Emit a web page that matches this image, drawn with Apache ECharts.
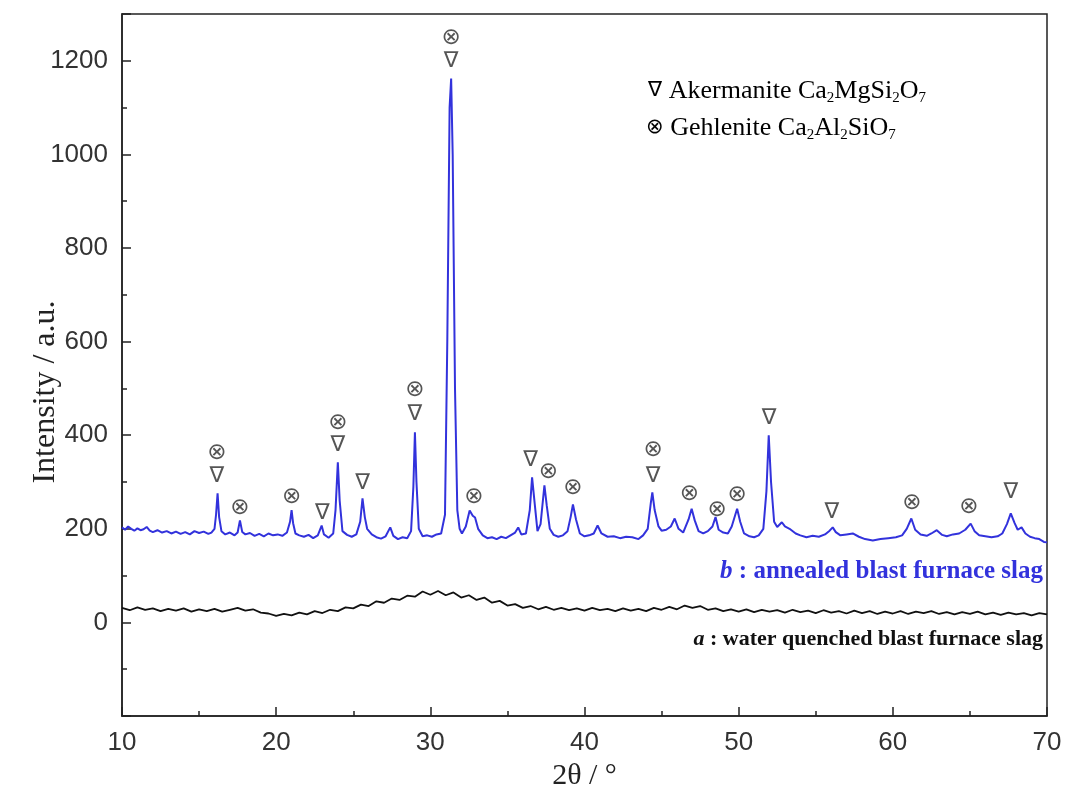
<!DOCTYPE html>
<html>
<head>
<meta charset="utf-8">
<script src="https://cdn.jsdelivr.net/npm/echarts@6/dist/echarts.min.js"></script>
<style>
  html, body { margin: 0; padding: 0; background: #fff; }
  #chart { width: 1068px; height: 791px; }
</style>
</head>
<body>
<div id="chart"></div>
<script>
// XRD patterns, 2θ (deg) vs intensity (a.u.)
const annealed = [
  [10.0, 203], [10.2, 198], [10.4, 205], [10.6, 200], [10.8, 196], [11.0, 201], [11.2, 197], [11.4, 199],
  [11.6, 204], [11.8, 196], [12.0, 193], [12.3, 197], [12.6, 192], [12.9, 195], [13.2, 190], [13.5, 194],
  [13.8, 189], [14.1, 193], [14.4, 188], [14.7, 195], [15.0, 191], [15.3, 194], [15.6, 189], [15.8, 192],
  [16.0, 200], [16.1, 230], [16.2, 276], [16.3, 225], [16.45, 195], [16.7, 188], [17.0, 192], [17.3, 186],
  [17.5, 192], [17.65, 218], [17.8, 193], [18.0, 188], [18.3, 191], [18.6, 185], [18.9, 189], [19.2, 184],
  [19.5, 190], [19.8, 186], [20.1, 188], [20.4, 185], [20.7, 192], [20.9, 215], [21.0, 240], [21.1, 212],
  [21.25, 190], [21.5, 186], [21.8, 183], [22.1, 187], [22.4, 180], [22.7, 186], [22.95, 207], [23.1, 188],
  [23.4, 181], [23.7, 190], [23.85, 240], [24.0, 342], [24.12, 260], [24.3, 195], [24.6, 187], [24.9, 183],
  [25.2, 188], [25.45, 215], [25.6, 265], [25.75, 225], [25.9, 200], [26.2, 188], [26.5, 182], [26.8, 179],
  [27.1, 184], [27.4, 203], [27.6, 185], [27.9, 178], [28.2, 182], [28.5, 180], [28.75, 195], [28.9, 290],
  [29.0, 406], [29.1, 300], [29.25, 200], [29.5, 184], [29.8, 186], [30.1, 183], [30.4, 188], [30.7, 190],
  [30.95, 230], [31.1, 600], [31.25, 1100], [31.35, 1162], [31.45, 1000], [31.6, 500], [31.75, 240],
  [31.9, 200], [32.05, 190], [32.3, 205], [32.55, 239], [32.75, 228], [32.9, 224], [33.1, 200], [33.4, 186],
  [33.7, 180], [34.0, 182], [34.3, 178], [34.6, 183], [34.9, 180], [35.2, 186], [35.5, 192], [35.7, 203],
  [35.9, 188], [36.2, 190], [36.45, 240], [36.6, 310], [36.75, 260], [36.95, 195], [37.15, 210], [37.4, 293],
  [37.55, 250], [37.75, 200], [38.0, 187], [38.3, 183], [38.6, 186], [38.9, 195], [39.1, 225], [39.25, 252],
  [39.45, 220], [39.7, 190], [40.0, 184], [40.3, 186], [40.6, 190], [40.85, 207], [41.1, 190], [41.5, 183],
  [41.9, 184], [42.3, 180], [42.7, 183], [43.1, 182], [43.5, 178], [43.8, 186], [44.1, 200], [44.3, 255],
  [44.4, 278], [44.55, 240], [44.8, 205], [45.0, 196], [45.3, 198], [45.6, 205], [45.85, 222], [46.1, 200],
  [46.4, 192], [46.75, 220], [46.95, 243], [47.15, 218], [47.4, 195], [47.7, 190], [48.0, 195], [48.3, 205],
  [48.5, 225], [48.7, 198], [49.0, 192], [49.3, 190], [49.55, 205], [49.9, 243], [50.1, 215], [50.35, 190],
  [50.7, 184], [51.0, 182], [51.3, 186], [51.6, 200], [51.8, 280], [51.95, 400], [52.1, 300], [52.3, 215],
  [52.5, 204], [52.8, 214], [53.0, 205], [53.3, 200], [53.7, 190], [54.0, 186], [54.4, 182], [54.8, 185],
  [55.2, 183], [55.6, 188], [55.9, 196], [56.1, 203], [56.3, 193], [56.6, 186], [57.0, 188], [57.4, 190],
  [57.8, 183], [58.2, 178], [58.7, 175], [59.2, 178], [59.7, 180], [60.2, 182], [60.6, 186], [60.9, 200],
  [61.2, 222], [61.45, 198], [61.8, 188], [62.2, 185], [62.5, 190], [62.85, 197], [63.2, 187], [63.5, 184],
  [63.9, 188], [64.3, 190], [64.7, 198], [65.05, 211], [65.3, 195], [65.6, 186], [66.0, 184], [66.4, 182],
  [66.8, 184], [67.1, 190], [67.4, 210], [67.65, 233], [67.9, 212], [68.1, 198], [68.35, 203], [68.6, 190],
  [68.9, 183], [69.2, 180], [69.5, 178], [69.8, 172], [70.0, 171]
];

const quenched = [
  [10, 31], [10.5, 26], [11, 32], [11.5, 27], [12, 30], [12.5, 24], [13, 29], [13.5, 25], [14, 30], [14.5, 23],
  [15, 28], [15.5, 24], [16, 29], [16.5, 23], [17, 27], [17.5, 31], [18, 25], [18.5, 28], [19, 21], [19.5, 19],
  [20, 14], [20.5, 18], [21, 15], [21.5, 21], [22, 17], [22.5, 24], [23, 20], [23.5, 27], [24, 24], [24.5, 32],
  [25, 30], [25.5, 38], [26, 35], [26.5, 45], [27, 42], [27.5, 51], [28, 48], [28.5, 57], [29, 55], [29.5, 66],
  [30, 59], [30.5, 67], [31, 58], [31.5, 64], [32, 53], [32.5, 58], [33, 48], [33.5, 53], [34, 42], [34.5, 46],
  [35, 36], [35.5, 39], [36, 31], [36.5, 35], [37, 28], [37.5, 33], [38, 27], [38.5, 31], [39, 26], [39.5, 30],
  [40, 25], [40.5, 31], [41, 26], [41.5, 29], [42, 24], [42.5, 30], [43, 25], [43.5, 29], [44, 24], [44.5, 31],
  [45, 27], [45.5, 33], [46, 28], [46.5, 36], [47, 31], [47.5, 35], [48, 27], [48.5, 30], [49, 24], [49.5, 28],
  [50, 23], [50.5, 28], [51, 22], [51.5, 27], [52, 23], [52.5, 26], [53, 21], [53.5, 27], [54, 22], [54.5, 25],
  [55, 20], [55.5, 26], [56, 21], [56.5, 24], [57, 19], [57.5, 25], [58, 20], [58.5, 24], [59, 18], [59.5, 23],
  [60, 19], [60.5, 24], [61, 18], [61.5, 23], [62, 20], [62.5, 24], [63, 18], [63.5, 22], [64, 17], [64.5, 22],
  [65, 18], [65.5, 23], [66, 17], [66.5, 21], [67, 16], [67.5, 21], [68, 17], [68.5, 20], [69, 15], [69.5, 20],
  [70, 17]
];

// phase markers placed above the peaks
const akermaniteMarks = [
  [16.15, 313], [23.0, 234], [24.0, 379], [25.6, 298], [29.0, 445], [31.35, 1200], [36.5, 347],
  [44.45, 313], [51.97, 437], [56.05, 236], [67.66, 279]
];
const gehleniteMarks = [
  [16.15, 362], [17.65, 244], [21.0, 268], [24.0, 426], [29.0, 497], [31.35, 1249], [32.83, 268],
  [37.65, 321], [39.25, 287], [44.45, 368], [46.8, 274], [48.6, 240], [49.9, 272], [61.24, 255], [64.94, 247]
];

const xTicks = [10, 20, 30, 40, 50, 60, 70];
const yTicks = [0, 200, 400, 600, 800, 1000, 1200];

const BLUE = "#3232dc";
const INK = "#222";
const SERIF = "'Liberation Serif', 'Times New Roman', serif";
const SANS = "'Liberation Sans', Arial, sans-serif";
const GLYPH = "'DejaVu Sans', sans-serif";

const chart = echarts.init(document.getElementById("chart"), null, { renderer: "canvas" });

function markSeries(name, glyph, data, size) {
  return {
    name,
    type: "scatter",
    data,
    symbol: "circle",
    symbolSize: 1,
    itemStyle: { color: "transparent" },
    label: {
      show: true,
      position: "inside",
      formatter: glyph,
      fontFamily: GLYPH,
      fontSize: size,
      color: "#2a2a2a",
    },
    silent: true,
    z: 5,
  };
}

const sub = { fontFamily: SERIF, fontSize: 15, color: INK, lineHeight: 18, verticalAlign: "bottom" };
const main = { fontFamily: SERIF, fontSize: 26, color: INK, lineHeight: 30 };
const glyph = { fontFamily: GLYPH, fontSize: 21, color: "#2a2a2a", lineHeight: 30 };

chart.setOption({
  animation: false,
  backgroundColor: "#fff",
  grid: {
    left: 122, right: 21, top: 14, bottom: 75,
    outerBoundsMode: "none",
    show: true, borderColor: INK, borderWidth: 1.5, backgroundColor: "transparent",
  },
  xAxis: {
    type: "value",
    min: 10,
    max: 70,
    interval: 10,
    name: "2θ / °",
    nameLocation: "middle",
    nameGap: 44,
    nameTextStyle: { fontFamily: SERIF, fontSize: 30, color: INK },
    axisLine: { onZero: false, lineStyle: { color: INK, width: 1.5 } },
    axisTick: { inside: true, length: 9, lineStyle: { color: INK, width: 1.5 } },
    minorTick: { show: true, splitNumber: 2, length: 5, lineStyle: { color: INK, width: 1.5 } },
    splitLine: { show: false },
    axisLabel: {
      fontFamily: SANS, fontSize: 26, color: "#333", margin: 14,
      formatter: (v) => (xTicks.includes(v) ? String(v) : ""),
    },
  },
  yAxis: {
    type: "value",
    min: -200,
    max: 1300,
    interval: 200,
    axisLine: { show: true, onZero: false, lineStyle: { color: INK, width: 1.5 } },
    axisTick: { inside: true, length: 9, lineStyle: { color: INK, width: 1.5 } },
    minorTick: { show: true, splitNumber: 2, length: 5, lineStyle: { color: INK, width: 1.5 } },
    splitLine: { show: false },
    axisLabel: {
      fontFamily: SANS, fontSize: 26, color: "#333", margin: 14,
      formatter: (v) => (yTicks.includes(v) ? String(v) : ""),
    },
  },
  series: [
    {
      name: "a",
      type: "line",
      data: quenched,
      showSymbol: false,
      lineStyle: { color: "#111", width: 1.8 },
      z: 3,
    },
    {
      name: "b",
      type: "line",
      data: annealed,
      showSymbol: false,
      lineStyle: { color: BLUE, width: 2 },
      z: 4,
    },
    markSeries("Akermanite", "∇", akermaniteMarks, 22),
    markSeries("Gehlenite", "⊗", gehleniteMarks, 23),
  ],
  graphic: [
    {
      type: "text",
      x: 46,
      y: 392,
      rotation: Math.PI / 2,
      style: {
        text: "Intensity / a.u.",
        fontFamily: SERIF, fontSize: 32, fill: INK,
        align: "center", verticalAlign: "middle",
      },
    },
    {
      type: "text",
      left: 648,
      top: 78,
      style: {
        text: "{g|∇}  {m|Akermanite Ca}{s|2}{m|MgSi}{s|2}{m|O}{s|7}",
        rich: { g: glyph, m: main, s: sub },
      },
    },
    {
      type: "text",
      left: 646,
      top: 115,
      style: {
        text: "{g|⊗}  {m|Gehlenite Ca}{s|2}{m|Al}{s|2}{m|SiO}{s|7}",
        rich: { g: glyph, m: main, s: sub },
      },
    },
    {
      type: "text",
      right: 25,
      top: 559,
      style: {
        text: "{i|b} : annealed blast furnace slag",
        fontFamily: SERIF, fontSize: 25, fontWeight: "bold", fill: BLUE,
        rich: { i: { fontFamily: SERIF, fontSize: 25, fontWeight: "bold", fontStyle: "italic", color: BLUE } },
      },
    },
    {
      type: "text",
      right: 25,
      top: 628,
      style: {
        text: "{i|a} : water quenched blast furnace slag",
        fontFamily: SERIF, fontSize: 22, fontWeight: "bold", fill: "#111",
        rich: { i: { fontFamily: SERIF, fontSize: 22, fontWeight: "bold", fontStyle: "italic", color: "#111" } },
      },
    },
  ],
});
</script>
</body>
</html>
